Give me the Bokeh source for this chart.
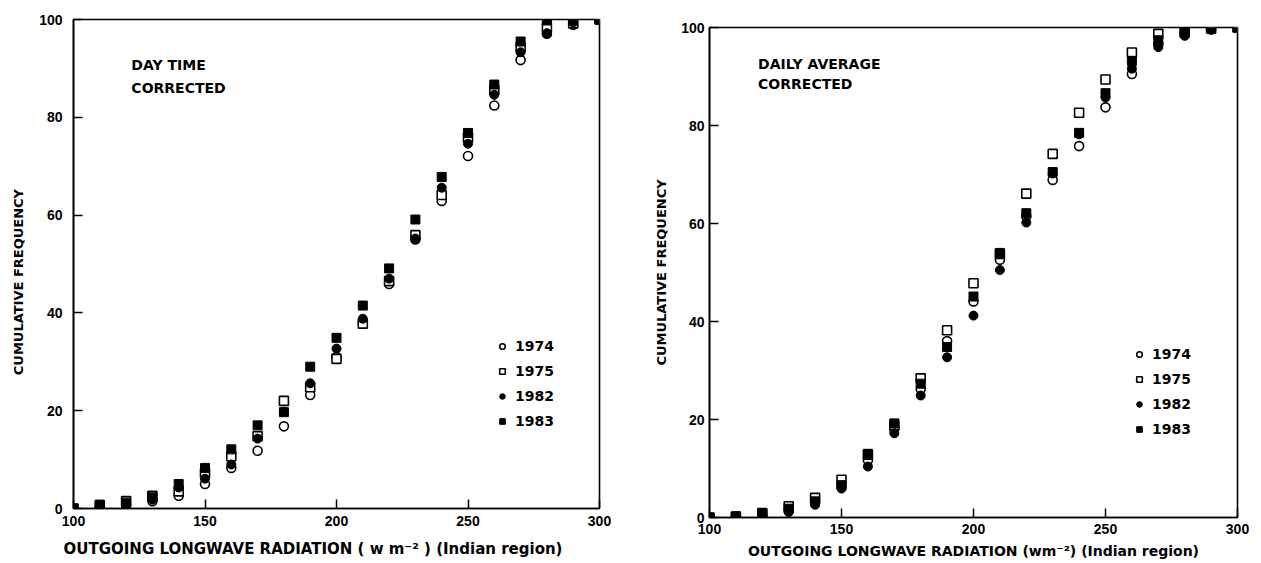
from bokeh.plotting import figure
from bokeh.layouts import row, column
from bokeh.models import Legend, LegendItem, Label, FixedTicker, Spacer
from bokeh.embed import file_html
from bokeh.resources import INLINE

# ---------------- data ----------------
olr = [100, 110, 120, 130, 140, 150, 160, 170, 180, 190, 200,
       210, 220, 230, 240, 250, 260, 270, 280, 290, 300]

years = ["1974", "1975", "1982", "1983"]

# Left panel: DAY TIME CORRECTED
day_1974 = [0, 0.3, 0.6, 1.5, 2.6, 5.0, 8.3, 11.8, 16.8, 23.2, 31.0,
            38.0, 45.9, 55.0, 62.9, 72.1, 82.4, 91.7, 97.1, 98.9, 100]
day_1975 = [0, 0.6, 1.5, 2.6, 3.5, 7.2, 10.7, 14.8, 22.0, 24.8, 30.6,
            37.8, 46.5, 55.9, 64.1, 75.9, 85.6, 94.3, 98.3, 99.2, 100]
day_1982 = [0, 0.5, 0.7, 1.8, 4.3, 6.1, 9.0, 14.3, 19.8, 25.6, 32.7,
            38.8, 47.0, 55.2, 65.6, 74.6, 84.6, 93.3, 97.2, 99.4, 100]
day_1983 = [0, 0.8, 1.2, 2.3, 5.0, 8.3, 12.1, 17.0, 19.7, 29.0, 34.9,
            41.5, 49.1, 59.1, 67.8, 76.8, 86.7, 95.5, 99.8, 99.8, 100]

# Right panel: DAILY AVERAGE CORRECTED
avg_1974 = [0, 0.2, 0.5, 1.6, 3.1, 6.4, 11.7, 18.1, 26.2, 36.0, 44.1,
            52.6, 61.5, 68.9, 75.8, 83.7, 90.5, 96.7, 98.7, 99.6, 100]
avg_1975 = [0, 0.2, 0.9, 2.3, 4.0, 7.7, 12.8, 18.8, 28.4, 38.2, 47.8,
            53.8, 66.1, 74.2, 82.6, 89.4, 94.9, 98.7, 99.0, 99.8, 100]
avg_1982 = [0, 0.2, 0.4, 1.1, 2.6, 5.9, 10.4, 17.2, 24.9, 32.7, 41.2,
            50.5, 60.2, 70.2, 78.2, 85.7, 91.6, 96.0, 98.3, 99.6, 100]
avg_1983 = [0, 0.2, 0.7, 1.8, 3.3, 6.6, 13.0, 19.2, 27.3, 34.8, 45.1,
            54.0, 62.1, 70.5, 78.5, 86.6, 93.2, 97.4, 99.6, 99.8, 100]

x_ticks = [100, 150, 200, 250, 300]
y_ticks = [0, 20, 40, 60, 80, 100]

x_title_left = "OUTGOING  LONGWAVE  RADIATION  ( w m\u207b\u00b2 )  (Indian region)"
x_title_right = "OUTGOING LONGWAVE RADIATION (wm\u207b\u00b2) (Indian region)"
y_title = "CUMULATIVE FREQUENCY"

FONT = "DejaVu Sans"
TICK_FONT = "Liberation Sans"


def make_panel(series, title_lines, x_title, x_title_size,
               y_label, width, height, borders, legend_loc, text_pos, stand):
    bl, br, bt, bb = borders
    xls, xts, yls, yts = stand
    p = figure(width=width, height=height, x_range=(100, 300), y_range=(0, 100),
               output_backend="svg", toolbar_location=None,
               min_border_left=bl, min_border_right=br,
               min_border_top=bt, min_border_bottom=bb)
    p.background_fill_color = "white"
    p.border_fill_color = "white"
    p.grid.visible = False
    p.outline_line_color = "black"
    p.outline_line_width = 1.6

    for ax in (p.xaxis[0], p.yaxis[0]):
        ax.major_tick_in = 9
        ax.major_tick_out = 0
        ax.minor_tick_line_color = None
        ax.major_tick_line_color = "black"
        ax.major_tick_line_width = 1.5
        ax.axis_line_color = "black"
        ax.axis_line_width = 1.6
        ax.major_label_text_font = TICK_FONT
        ax.major_label_text_font_style = "bold"
        ax.major_label_text_font_size = "14px"
        ax.major_label_text_color = "black"
        ax.axis_label_text_font = FONT
        ax.axis_label_text_font_style = "bold"
        ax.axis_label_text_color = "black"
    p.xaxis[0].axis_label_text_font_size = x_title_size
    p.yaxis[0].axis_label_text_font_size = "13px"
    p.xaxis[0].ticker = FixedTicker(ticks=x_ticks)
    p.yaxis[0].ticker = FixedTicker(ticks=y_ticks)
    p.xaxis[0].axis_label = x_title
    p.yaxis[0].axis_label = y_label
    p.xaxis[0].major_label_standoff = xls
    p.xaxis[0].axis_label_standoff = xts
    p.yaxis[0].major_label_standoff = yls
    p.yaxis[0].axis_label_standoff = yts

    s74, s75, s82, s83 = series
    r74 = p.scatter(olr, s74, marker="circle", size=9, fill_color="white",
                    line_color="black", line_width=1.6)
    r75 = p.scatter(olr, s75, marker="square", size=9, fill_color="white",
                    line_color="black", line_width=1.6)
    r82 = p.scatter(olr, s82, marker="circle", size=9, fill_color="black",
                    line_color="black", line_width=1.0)
    r83 = p.scatter(olr, s83, marker="square", size=9, fill_color="black",
                    line_color="black", line_width=1.0)

    legend = Legend(items=[LegendItem(label=y, renderers=[r])
                           for y, r in zip(years, [r74, r75, r82, r83])],
                    location=legend_loc)
    legend.border_line_alpha = 0
    legend.background_fill_alpha = 0
    legend.label_text_font = FONT
    legend.label_text_font_style = "bold"
    legend.label_text_font_size = "14px"
    legend.label_text_color = "black"
    legend.glyph_width = 14
    legend.glyph_height = 20
    legend.label_height = 20
    legend.spacing = 5
    legend.padding = 0
    legend.margin = 0
    legend.label_standoff = 6
    p.add_layout(legend)

    tx, ty1, ty2 = text_pos
    for t, ty in zip(title_lines, (ty1, ty2)):
        p.add_layout(Label(x=tx, y=ty, text=t, text_font=FONT,
                           text_font_style="bold", text_font_size="14px",
                           text_baseline="middle", text_color="black"))
    return p


# left panel's titles sit slightly off the frame centre (padding with nbsp)
y_title_left = y_title + "\u00a0" * 8
x_title_left_padded = x_title_left + "\u00a0" * 5

left = make_panel([day_1974, day_1975, day_1982, day_1983],
                  ["DAY TIME", "CORRECTED"], x_title_left_padded, "15px",
                  y_title_left, 630, 563, (73, 31, 19, 55), (422, 77),
                  (122, 90.6, 86.0), (7, 11, 11, 10))
right = make_panel([avg_1974, avg_1975, avg_1982, avg_1983],
                   ["DAILY AVERAGE", "CORRECTED"], x_title_right, "14px",
                   y_title, 631, 555, (79, 24, 19, 46), (423, 78),
                   (118.4, 92.5, 88.4), (6, 6, 5, 9))

layout = row(left, column(Spacer(width=631, height=8), right))
open("out.html", "w").write(file_html(layout, INLINE))
